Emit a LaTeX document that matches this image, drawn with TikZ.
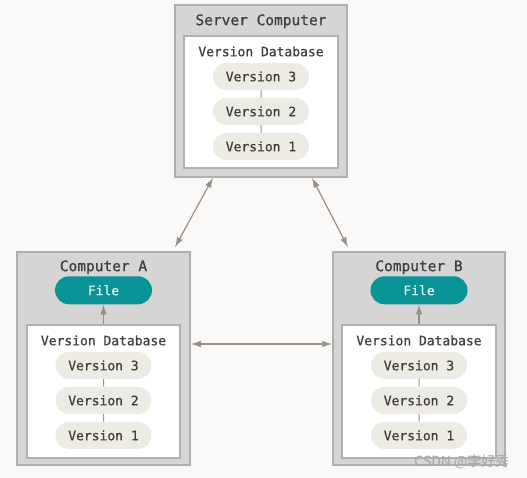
\documentclass[tikz,border=0pt]{standalone}
\usepackage{fontspec}
\setmainfont{DejaVu Sans Mono}[RawFeature={embolden=0.8}]
\newfontfamily\cjk{Noto Sans CJK SC}
\usepackage{tikz}
\usetikzlibrary{shapes,arrows.meta}
\usetikzlibrary{positioning,calc}

\definecolor{paper}{HTML}{FAF9F7}
\definecolor{boxgray}{HTML}{D5D5D5}
\definecolor{boxline}{HTML}{B0B0B0}
\definecolor{pill}{HTML}{EDECE4}
\definecolor{ink}{HTML}{433E3C}
\definecolor{fileteal}{HTML}{0A9397}
\definecolor{filetext}{HTML}{E4F2F1}
\definecolor{linegray}{HTML}{96918B}

\begin{document}
\begin{tikzpicture}[x=1pt, y=-1pt, align=center, node distance=35pt, >={Latex[length=10pt,width=6.5pt]}]

%local definitions
\tikzstyle{Machine} = [draw=boxline, fill=boxgray, line width=1.5pt, rectangle, inner sep=0pt]
\tikzstyle{Database} = [draw=boxline, fill=white, line width=1.2pt, rectangle, inner sep=0pt]
\tikzstyle{Version} = [fill=pill, rounded rectangle, minimum width=96pt, minimum height=27pt, inner sep=0pt, text=ink, font=\fontsize{13}{15}\selectfont]
\tikzstyle{WorkFile} = [Version, fill=fileteal, text=filetext, minimum width=97pt, minimum height=28pt]
\tikzstyle{Caption} = [text=ink, font=\fontsize{13}{15}\selectfont]
\tikzstyle{Title} = [text=ink, font=\fontsize{14.5}{17}\selectfont]
\tikzstyle{link} = [draw=linegray, line width=1.2pt]

\fill [paper] (0,0) rectangle (527,478);
\useasboundingbox (0,0) rectangle (527,478);

%server
	\node [Machine, minimum width=172pt, minimum height=172pt] (server) at (261,91) {};
	\node [Database, minimum width=154pt, minimum height=132pt] (serverDB) at (261,102) {};
	\node [Title] (serverName) at ($(server.north)+(0,17)$) {Server Computer};
	\node [Caption] (serverDBName) at ($(serverDB.north)+(0,16)$) {Version Database};
	\node [Version] (serverV3) at ($(serverDB.north)+(0,41)$) {Version 3};
	\node [Version, below of=serverV3] (serverV2) {Version 2};
	\node [Version, below of=serverV2] (serverV1) {Version 1};

%computer A
	\node [Machine, minimum width=173pt, minimum height=213pt] (compA) at (103.5,358.5) {};
	\node [Database, minimum width=153pt, minimum height=133pt] (compADB) at (103.5,391.5) {};
	\node [Title] (compAName) at ($(compA.north)+(0,16)$) {Computer A};
	\node [WorkFile] (compAFile) at ($(compA.north)+(0,39)$) {File};
	\node [Caption] (compADBName) at ($(compADB.north)+(0,16)$) {Version Database};
	\node [Version] (compAV3) at ($(compADB.north)+(0,41)$) {Version 3};
	\node [Version, below of=compAV3] (compAV2) {Version 2};
	\node [Version, below of=compAV2] (compAV1) {Version 1};

%computer B
	\node [Machine, minimum width=172pt, minimum height=213pt] (compB) at (419,358.5) {};
	\node [Database, minimum width=154pt, minimum height=133pt] (compBDB) at (419,391.5) {};
	\node [Title] (compBName) at ($(compB.north)+(0,16)$) {Computer B};
	\node [WorkFile] (compBFile) at ($(compB.north)+(0,39)$) {File};
	\node [Caption] (compBDBName) at ($(compBDB.north)+(0,16)$) {Version Database};
	\node [Version] (compBV3) at ($(compBDB.north)+(0,41)$) {Version 3};
	\node [Version, below of=compBV3] (compBV2) {Version 2};
	\node [Version, below of=compBV2] (compBV1) {Version 1};

%connections
	\draw [link, line width=1pt] (serverV3) -- (serverV2);
	\draw [link, line width=1pt] (serverV2) -- (serverV1);
	\draw [link, line width=1pt] (compAV3) -- (compAV2);
	\draw [link, line width=1pt] (compAV2) -- (compAV1);
	\draw [link, line width=1pt] (compBV3) -- (compBV2);
	\draw [link, line width=1pt] (compBV2) -- (compBV1);

	\draw [link, ->] (compADB.north) -- (compAFile.south);
	\draw [link, ->] (compBDB.north) -- (compBFile.south);

	\draw [link, <->] ($(server.south)+(-48,0)$) -- ($(compA.north)+(71.5,-4)$);
	\draw [link, <->] ($(server.south)+(51,0)$) -- ($(compB.north)+(-71,-4)$);
	\draw [link, <->] ($(compA.east)+(0,-14.5)$) -- ($(compB.west)+(0,-14.5)$);

	%watermark
	\node [text=gray!70, font=\cjk\fontsize{14}{16}\selectfont, anchor=east] (watermark) at (513,461.5) {CSDN @李好秀};

\end{tikzpicture}
\end{document}
